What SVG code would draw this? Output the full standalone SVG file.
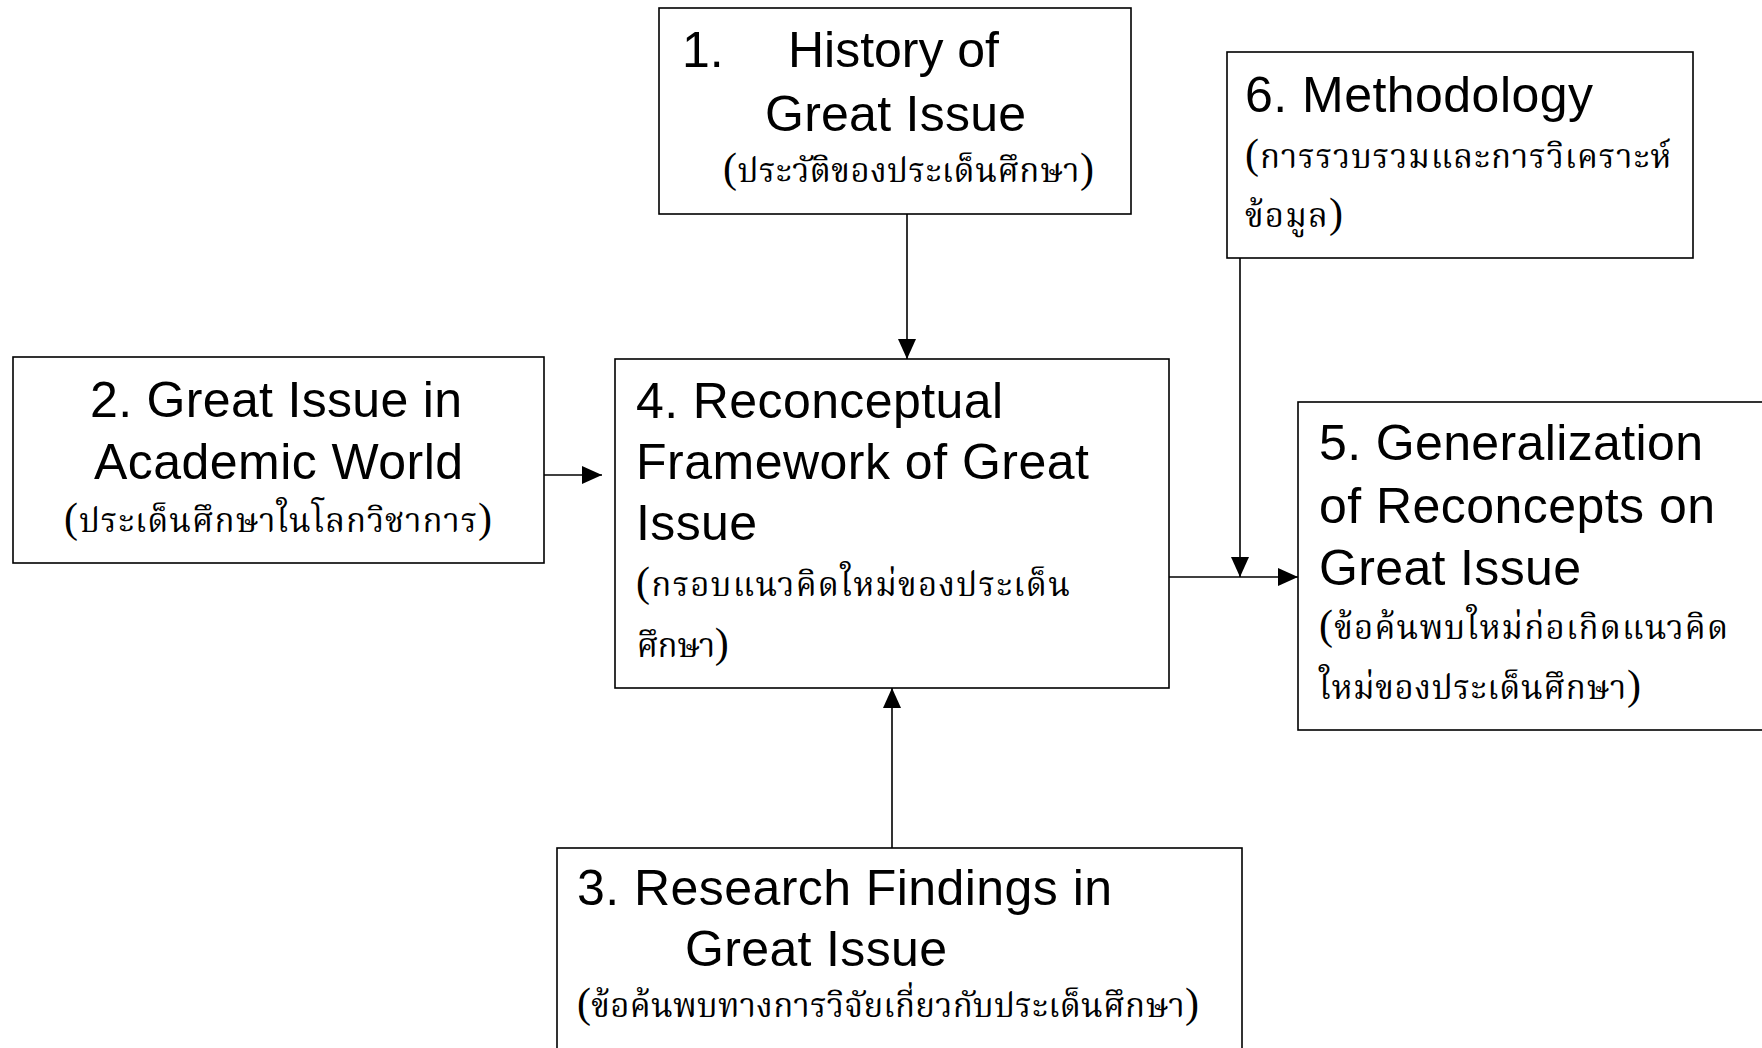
<svg xmlns="http://www.w3.org/2000/svg" width="1762" height="1048" viewBox="0 0 1762 1048">
<defs>
<style>
.box{fill:#fff;stroke:#000;stroke-width:1.6}
.en{font-family:"Liberation Sans",Arial,sans-serif;font-size:50px;fill:#000}
.th{font-family:"Noto Serif Thai","Noto Sans Thai","Liberation Serif","DejaVu Serif",serif;font-size:33px;fill:#000}
.p{font-family:"Liberation Serif",serif;font-size:42px}
.edge{stroke:#000;stroke-width:1.6;fill:none;marker-end:url(#ah)}
</style>
<marker id="ah" markerUnits="userSpaceOnUse" markerWidth="20" markerHeight="18" refX="20" refY="9" orient="auto">
<path d="M0,0 L20,9 L0,18 z" fill="#000"/>
</marker>
</defs>
<rect width="1762" height="1048" fill="#fff"/>
<g id="connectors">
<line class="edge" x1="907" y1="214" x2="907" y2="359"/>
<line class="edge" x1="544" y1="475" x2="602" y2="475"/>
<line class="edge" x1="892" y1="848" x2="892" y2="688"/>
<line class="edge" x1="1169" y1="577" x2="1298" y2="577"/>
<line class="edge" x1="1240" y1="258" x2="1240" y2="577"/>
</g>
<g id="node1">
<rect class="box" x="659" y="8" width="472" height="206"/>
<text class="en" y="67"><tspan x="682">1.</tspan><tspan x="788" textLength="211">History of</tspan></text>
<text class="en" x="765" y="131" textLength="261">Great Issue</text>
<text class="th" x="723" y="182" textLength="371"><tspan class="p">(</tspan>ประวัติของประเด็นศึกษา<tspan class="p">)</tspan></text>
</g>
<g id="node6">
<rect class="box" x="1227" y="52" width="466" height="206"/>
<text class="en" x="1245" y="112" textLength="348">6. Methodology</text>
<text class="th" x="1245" y="168" textLength="426"><tspan class="p">(</tspan>การรวบรวมและการวิเคราะห์</text>
<text class="th" x="1245" y="227" textLength="98">ข้อมูล<tspan class="p">)</tspan></text>
</g>
<g id="node2">
<rect class="box" x="13" y="357" width="531" height="206"/>
<text class="en" x="90" y="417" textLength="372">2. Great Issue in</text>
<text class="en" x="94" y="479" textLength="369">Academic World</text>
<text class="th" x="64" y="532" textLength="428"><tspan class="p">(</tspan>ประเด็นศึกษาในโลกวิชาการ<tspan class="p">)</tspan></text>
</g>
<g id="node4">
<rect class="box" x="615" y="359" width="554" height="329"/>
<text class="en" x="636" y="418" textLength="367">4. Reconceptual</text>
<text class="en" x="636" y="479" textLength="453">Framework of Great</text>
<text class="en" x="636" y="540" textLength="121">Issue</text>
<text class="th" x="636" y="596" textLength="434"><tspan class="p">(</tspan>กรอบแนวคิดใหม่ของประเด็น</text>
<text class="th" x="636" y="657" textLength="92">ศึกษา<tspan class="p">)</tspan></text>
</g>
<g id="node5">
<rect class="box" x="1298" y="402" width="520" height="328"/>
<text class="en" x="1319" y="460" textLength="384">5. Generalization</text>
<text class="en" x="1319" y="523" textLength="396">of Reconcepts on</text>
<text class="en" x="1319" y="585" textLength="262">Great Issue</text>
<text class="th" x="1319" y="639" textLength="409"><tspan class="p">(</tspan>ข้อค้นพบใหม่ก่อเกิดแนวคิด</text>
<text class="th" x="1319" y="699" textLength="322">ใหม่ของประเด็นศึกษา<tspan class="p">)</tspan></text>
</g>
<g id="node3">
<rect class="box" x="557" y="848" width="685" height="250"/>
<text class="en" x="577" y="905" textLength="535">3. Research Findings in</text>
<text class="en" x="685" y="966" textLength="262">Great Issue</text>
<text class="th" x="577" y="1017" textLength="622"><tspan class="p">(</tspan>ข้อค้นพบทางการวิจัยเกี่ยวกับประเด็นศึกษา<tspan class="p">)</tspan></text>
</g>
</svg>
